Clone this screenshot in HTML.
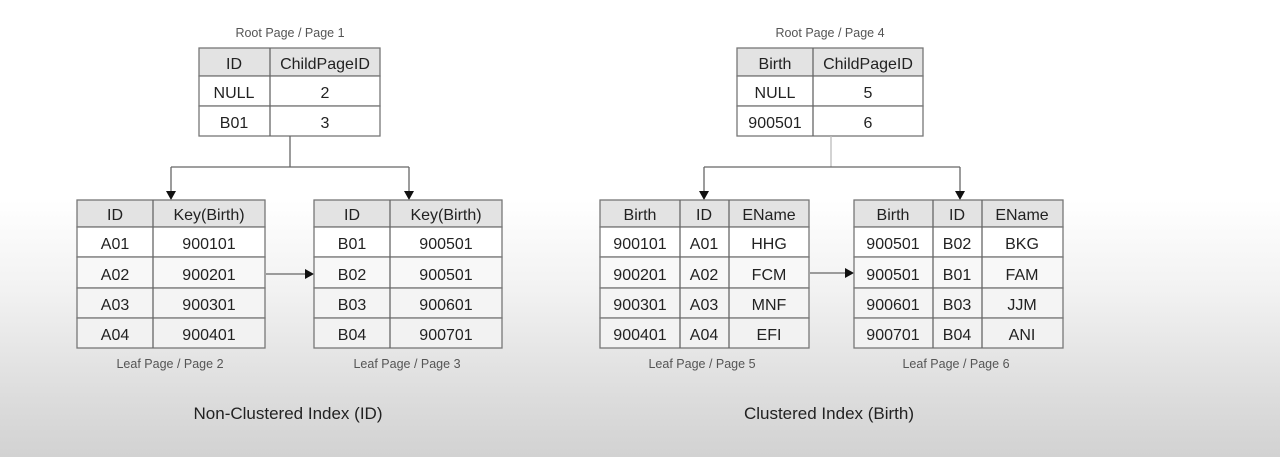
<!DOCTYPE html>
<html><head><meta charset="utf-8"><style>
html,body{margin:0;padding:0}
body{width:1280px;height:457px;overflow:hidden;background:linear-gradient(#fff 0px,#fff 200px,#f2f2f2 290px,#dcdcdc 400px,#d2d2d2 457px)}
svg{position:absolute;left:0;top:0}
text{font-family:"Liberation Sans",sans-serif}
.c{font-size:16px;fill:#222;text-anchor:middle}
.cap{font-size:12.5px;fill:#555;text-anchor:middle}
.t{font-size:17px;fill:#222;text-anchor:middle}
rect{stroke:#777;stroke-width:1.3}
line{stroke:#666;stroke-width:1.3}
</style></head><body>
<svg width="1280" height="457" viewBox="0 0 1280 457">
<!-- left root -->
<text class="cap" x="290" y="37">Root Page / Page 1</text>
<rect x="199" y="48" width="181" height="28" fill="#e3e3e3"/>
<rect x="199" y="76" width="181" height="30" fill="#fff"/>
<rect x="199" y="106" width="181" height="30" fill="#fff"/>
<line x1="270" y1="48" x2="270" y2="136"/>
<text class="c" x="234" y="69">ID</text><text class="c" x="325" y="69">ChildPageID</text>
<text class="c" x="234" y="98">NULL</text><text class="c" x="325" y="98">2</text>
<text class="c" x="234" y="128">B01</text><text class="c" x="325" y="128">3</text>
<line x1="290" y1="136" x2="290" y2="167"/>
<line x1="171" y1="167" x2="409" y2="167"/>
<line x1="171" y1="167" x2="171" y2="192"/><polygon points="166,191 176,191 171,200" fill="#111"/>
<line x1="409" y1="167" x2="409" y2="192"/><polygon points="404,191 414,191 409,200" fill="#111"/>
<!-- left leaf 1 -->
<rect x="77" y="200" width="188" height="27" fill="#e3e3e3"/>
<rect x="77" y="227" width="188" height="30" fill="#fff"/>
<rect x="77" y="257" width="188" height="31" fill="#f8f8f8"/>
<rect x="77" y="288" width="188" height="30" fill="#f4f4f4"/>
<rect x="77" y="318" width="188" height="30" fill="#f2f2f2"/>
<line x1="153" y1="200" x2="153" y2="348"/>
<text class="c" x="115" y="220">ID</text><text class="c" x="209" y="220">Key(Birth)</text>
<text class="c" x="115" y="249">A01</text><text class="c" x="209" y="249">900101</text>
<text class="c" x="115" y="280">A02</text><text class="c" x="209" y="280">900201</text>
<text class="c" x="115" y="310">A03</text><text class="c" x="209" y="310">900301</text>
<text class="c" x="115" y="340">A04</text><text class="c" x="209" y="340">900401</text>
<text class="cap" x="170" y="368">Leaf Page / Page 2</text>
<line x1="266" y1="274" x2="306" y2="274"/><polygon points="305,269 305,279 314,274" fill="#111"/>
<!-- left leaf 2 -->
<rect x="314" y="200" width="188" height="27" fill="#e3e3e3"/>
<rect x="314" y="227" width="188" height="30" fill="#fff"/>
<rect x="314" y="257" width="188" height="31" fill="#f8f8f8"/>
<rect x="314" y="288" width="188" height="30" fill="#f4f4f4"/>
<rect x="314" y="318" width="188" height="30" fill="#f2f2f2"/>
<line x1="390" y1="200" x2="390" y2="348"/>
<text class="c" x="352" y="220">ID</text><text class="c" x="446" y="220">Key(Birth)</text>
<text class="c" x="352" y="249">B01</text><text class="c" x="446" y="249">900501</text>
<text class="c" x="352" y="280">B02</text><text class="c" x="446" y="280">900501</text>
<text class="c" x="352" y="310">B03</text><text class="c" x="446" y="310">900601</text>
<text class="c" x="352" y="340">B04</text><text class="c" x="446" y="340">900701</text>
<text class="cap" x="407" y="368">Leaf Page / Page 3</text>
<text class="t" x="288" y="419">Non-Clustered Index (ID)</text>

<!-- right root -->
<text class="cap" x="830" y="37">Root Page / Page 4</text>
<rect x="737" y="48" width="186" height="28" fill="#e3e3e3"/>
<rect x="737" y="76" width="186" height="30" fill="#fff"/>
<rect x="737" y="106" width="186" height="30" fill="#fff"/>
<line x1="813" y1="48" x2="813" y2="136"/>
<text class="c" x="775" y="69">Birth</text><text class="c" x="868" y="69">ChildPageID</text>
<text class="c" x="775" y="98">NULL</text><text class="c" x="868" y="98">5</text>
<text class="c" x="775" y="128">900501</text><text class="c" x="868" y="128">6</text>
<line x1="831" y1="136" x2="831" y2="167" style="stroke:#bbb"/>
<line x1="704" y1="167" x2="960" y2="167"/>
<line x1="704" y1="167" x2="704" y2="192"/><polygon points="699,191 709,191 704,200" fill="#111"/>
<line x1="960" y1="167" x2="960" y2="192"/><polygon points="955,191 965,191 960,200" fill="#111"/>
<!-- right leaf 1 -->
<rect x="600" y="200" width="209" height="27" fill="#e3e3e3"/>
<rect x="600" y="227" width="209" height="30" fill="#fff"/>
<rect x="600" y="257" width="209" height="31" fill="#f8f8f8"/>
<rect x="600" y="288" width="209" height="30" fill="#f4f4f4"/>
<rect x="600" y="318" width="209" height="30" fill="#f2f2f2"/>
<line x1="680" y1="200" x2="680" y2="348"/><line x1="729" y1="200" x2="729" y2="348"/>
<text class="c" x="640" y="220">Birth</text><text class="c" x="704" y="220">ID</text><text class="c" x="769" y="220">EName</text>
<text class="c" x="640" y="249">900101</text><text class="c" x="704" y="249">A01</text><text class="c" x="769" y="249">HHG</text>
<text class="c" x="640" y="280">900201</text><text class="c" x="704" y="280">A02</text><text class="c" x="769" y="280">FCM</text>
<text class="c" x="640" y="310">900301</text><text class="c" x="704" y="310">A03</text><text class="c" x="769" y="310">MNF</text>
<text class="c" x="640" y="340">900401</text><text class="c" x="704" y="340">A04</text><text class="c" x="769" y="340">EFI</text>
<text class="cap" x="702" y="368">Leaf Page / Page 5</text>
<line x1="810" y1="273" x2="846" y2="273"/><polygon points="845,268 845,278 854,273" fill="#111"/>
<!-- right leaf 2 -->
<rect x="854" y="200" width="209" height="27" fill="#e3e3e3"/>
<rect x="854" y="227" width="209" height="30" fill="#fff"/>
<rect x="854" y="257" width="209" height="31" fill="#f8f8f8"/>
<rect x="854" y="288" width="209" height="30" fill="#f4f4f4"/>
<rect x="854" y="318" width="209" height="30" fill="#f2f2f2"/>
<line x1="933" y1="200" x2="933" y2="348"/><line x1="982" y1="200" x2="982" y2="348"/>
<text class="c" x="893" y="220">Birth</text><text class="c" x="957" y="220">ID</text><text class="c" x="1022" y="220">EName</text>
<text class="c" x="893" y="249">900501</text><text class="c" x="957" y="249">B02</text><text class="c" x="1022" y="249">BKG</text>
<text class="c" x="893" y="280">900501</text><text class="c" x="957" y="280">B01</text><text class="c" x="1022" y="280">FAM</text>
<text class="c" x="893" y="310">900601</text><text class="c" x="957" y="310">B03</text><text class="c" x="1022" y="310">JJM</text>
<text class="c" x="893" y="340">900701</text><text class="c" x="957" y="340">B04</text><text class="c" x="1022" y="340">ANI</text>
<text class="cap" x="956" y="368">Leaf Page / Page 6</text>
<text class="t" x="829" y="419">Clustered Index (Birth)</text>
</svg>
</body></html>
